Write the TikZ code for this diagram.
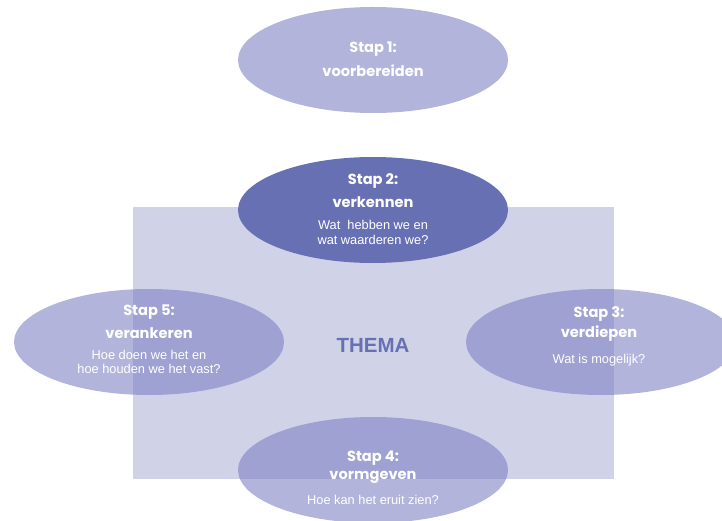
\documentclass[tikz,border=0pt]{standalone}
\usepackage{fontspec}
\setmainfont{Liberation Sans}
\newfontfamily\titlefont{Poppins}
\usetikzlibrary{shapes.geometric}
\definecolor{elfill}{RGB}{123,125,193}
\definecolor{rectfill}{RGB}{208,211,232}
\definecolor{darkel}{RGB}{104,112,180}
\begin{document}
\begin{tikzpicture}[x=1pt,y=-1pt,
  ell/.style={ellipse, draw=none, fill=elfill, fill opacity=0.58, inner sep=0pt,
    minimum width=270pt, minimum height=106pt},
  darkell/.style={ellipse, draw=none, fill=darkel, inner sep=0pt,
    minimum width=270pt, minimum height=106pt},
  ttl/.style={text=white, font=\titlefont\bfseries\fontsize{14.6}{16}\selectfont, inner sep=0pt},
  sub/.style={text=white, font=\fontsize{12.8}{14}\selectfont, inner sep=0pt},
  thema/.style={text=darkel, font=\bfseries\fontsize{20.5}{22}\selectfont, inner sep=0pt}]
\useasboundingbox (0,0) rectangle (722,521);
% step 1
\node[ell] (s1) at (373,60) {};
% rectangle
\node[fill=rectfill, draw=none, inner sep=0pt, minimum width=481pt, minimum height=272pt, anchor=north west] (box) at (133,207) {};
% step 2
\node[darkell] (s2) at (373,210) {};
% step 5, 3, 4
\node[ell] (s5) at (149,342) {};
\node[ell] (s3) at (601,342) {};
\node[ell] (s4) at (373,470) {};
% texts
\node[ttl] (t1a) at (373,49) {Stap 1:};
\node[ttl] (t1b) at (373,71) {voorbereiden};
\node[ttl] (t2a) at (373,181) {Stap 2:};
\node[ttl] (t2b) at (373,202) {verkennen};
\node[sub] (t2c) at (373,225) {Wat\ \ hebben we en};
\node[sub] (t2d) at (373,240) {wat waarderen we?};
\node[ttl] (t5a) at (149,312) {Stap 5:};
\node[ttl] (t5b) at (149,333) {verankeren};
\node[sub] (t5c) at (149,355) {Hoe doen we het en};
\node[sub] (t5d) at (149,369) {hoe houden we het vast?};
\node[ttl] (t3a) at (599,314) {Stap 3:};
\node[ttl] (t3b) at (599,334) {verdiepen};
\node[sub] (t3c) at (599,360) {Wat is mogelijk?};
\node[ttl] (t4a) at (373,458) {Stap 4:};
\node[ttl] (t4b) at (373,477) {vormgeven};
\node[sub] (t4c) at (373,500) {Hoe kan het eruit zien?};
\node[thema] (th) at (373,345) {THEMA};
\end{tikzpicture}
\end{document}
